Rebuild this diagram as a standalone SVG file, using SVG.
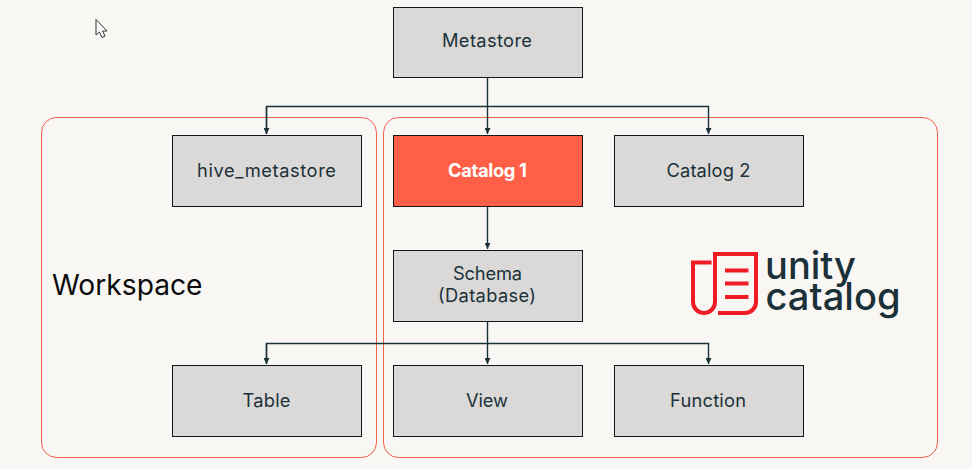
<svg xmlns="http://www.w3.org/2000/svg" width="972" height="469" viewBox="0 0 972 469">
<style>
text{font-family:"Inter","Liberation Sans",sans-serif}
.box{fill:#dad9d7;stroke:#11171c;stroke-width:1}
.lbl{font-size:18.300px;fill:#1b3139;text-anchor:middle}
.region{fill:none;stroke:#f0614a;stroke-width:1}
.conn{fill:none;stroke:#1b3139;stroke-width:1.4}
.logo{fill:none;stroke:#ee1c25;stroke-width:4}
.lt{font-size:38px;font-weight:500;fill:#1b3139}
</style>
<defs><marker id="arr" markerUnits="userSpaceOnUse" markerWidth="7" markerHeight="6" refX="6" refY="3" orient="auto"><path d="M0 0L6 3L0 6Z" fill="#1b3139"/></marker></defs>
<rect width="972" height="469" fill="#f9f7f4"/>
<g id="cursor"><path d="M96 19.500V35L99.500 32L102 37.500L105 36L102.500 31H107Z" fill="#fff" stroke="#333" stroke-width="1"/></g>
<g id="workspace-region"><rect class="region" x="41.500" y="117.500" width="335" height="340" rx="15"/><text x="52" y="295" font-size="28.200" fill="#0b0b0b">Workspace</text></g>
<g id="unity-region"><rect class="region" x="383.500" y="117.500" width="554" height="340" rx="15"/></g>
<g id="connectors">
<path class="conn" d="M487.500 78V134" marker-end="url(#arr)"/>
<path class="conn" d="M266.500 134V106.500H708.500V134" marker-end="url(#arr)"/>
<path class="conn" d="M266.500 106.500V134" marker-end="url(#arr)"/>
<path class="conn" d="M487.500 207V249" marker-end="url(#arr)"/>
<path class="conn" d="M487.500 322V364" marker-end="url(#arr)"/>
<path class="conn" d="M266.500 364V343.500H708.500V364" marker-end="url(#arr)"/>
<path class="conn" d="M266.500 343.500V364" marker-end="url(#arr)"/>
</g>
<g id="metastore"><rect class="box" x="393.500" y="7.500" width="189" height="70"/><text class="lbl" x="487" y="47" textLength="90">Metastore</text></g>
<g id="hive-metastore"><rect class="box" x="172.500" y="135.500" width="189" height="71"/><text class="lbl" x="266.500" y="177" textLength="139">hive_metastore</text></g>
<g id="catalog-1"><rect class="box" x="393.500" y="135.500" width="189" height="71" style="fill:#ff5f46"/><text class="lbl" x="487.500" y="177" textLength="79" style="fill:#fff;font-weight:700">Catalog 1</text></g>
<g id="catalog-2"><rect class="box" x="614.500" y="135.500" width="189" height="71"/><text class="lbl" x="708.500" y="177" textLength="84">Catalog 2</text></g>
<g id="schema"><rect class="box" x="393.500" y="250.500" width="189" height="71"/><text class="lbl" x="487.500" y="280" textLength="69">Schema</text><text class="lbl" x="487" y="302" textLength="98">(Database)</text></g>
<g id="table"><rect class="box" x="172.500" y="365.500" width="189" height="71"/><text class="lbl" x="266.500" y="407" textLength="48">Table</text></g>
<g id="view"><rect class="box" x="393.500" y="365.500" width="189" height="71"/><text class="lbl" x="487" y="407" textLength="42">View</text></g>
<g id="function"><rect class="box" x="614.500" y="365.500" width="189" height="71"/><text class="lbl" x="708" y="407" textLength="76">Function</text></g>
<g id="unity-catalog-logo">
<path class="logo" d="M711.500 262.500H693V302A11 11 0 0 0 715 302V254H756V302A11 11 0 0 1 745 313H718"/>
<path class="logo" d="M725 270.500H748.500M725 283.500H748.500M725 297H748.500"/>
<text class="lt" x="765" y="278.500" textLength="91" lengthAdjust="spacingAndGlyphs">unity</text>
<text class="lt" x="765.500" y="310" textLength="135" lengthAdjust="spacingAndGlyphs">catalog</text>
</g>
</svg>
